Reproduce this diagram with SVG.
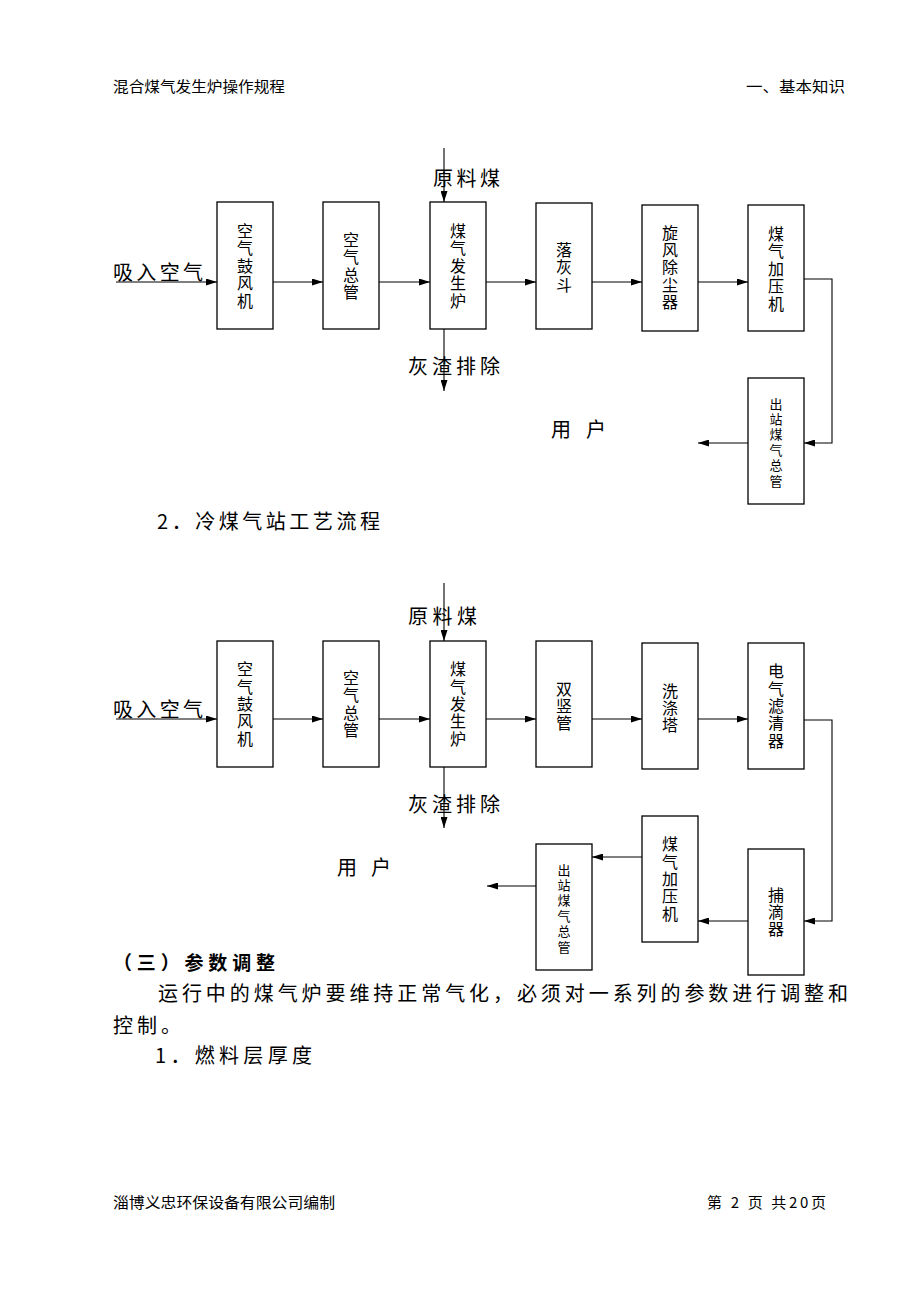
<svg xmlns="http://www.w3.org/2000/svg" width="920" height="1300" viewBox="0 0 920 1300">
<defs>
<style>
text{font-family:"Noto Sans CJK SC","Liberation Serif",serif;fill:#000}
.box{fill:#fff;stroke:#000;stroke-width:1.3}
.ln{fill:none;stroke:#000;stroke-width:1.1}
.bt{font-size:16px;text-anchor:middle}
.bs{font-size:13px;text-anchor:middle}
.lb{font-size:20px}
.hd{font-size:15px}
.body{font-size:20px}
.ttl{font-size:19px;font-weight:bold}
</style>
<marker id="ah" markerUnits="userSpaceOnUse" markerWidth="11" markerHeight="7" refX="11" refY="3.5" orient="auto">
<path d="M0,0 L11,3.5 L0,7 Z" fill="#000"/>
</marker>
</defs>
<rect width="920" height="1300" fill="#fff"/>

<g id="header">
<text class="hd" x="113" y="92" textLength="172" lengthAdjust="spacingAndGlyphs">混合煤气发生炉操作规程</text>
<text class="hd" x="746" y="92" textLength="99" lengthAdjust="spacingAndGlyphs">一、基本知识</text>
</g>

<g id="connectors">
<line class="ln" x1="116" y1="282" x2="217" y2="282" marker-end="url(#ah)"/>
<line class="ln" x1="273" y1="282" x2="323" y2="282" marker-end="url(#ah)"/>
<line class="ln" x1="379" y1="282" x2="430" y2="282" marker-end="url(#ah)"/>
<line class="ln" x1="486" y1="282" x2="536" y2="282" marker-end="url(#ah)"/>
<line class="ln" x1="592" y1="282" x2="642" y2="282" marker-end="url(#ah)"/>
<line class="ln" x1="698" y1="282" x2="748" y2="282" marker-end="url(#ah)"/>
<line class="ln" x1="444" y1="148" x2="444" y2="202" marker-end="url(#ah)"/>
<line class="ln" x1="444" y1="329" x2="444" y2="391" marker-end="url(#ah)"/>
<polyline class="ln" points="804,279 832,279 832,443 804,443" marker-end="url(#ah)"/>
<line class="ln" x1="748" y1="443" x2="698" y2="443" marker-end="url(#ah)"/>
<line class="ln" x1="116" y1="719" x2="217" y2="719" marker-end="url(#ah)"/>
<line class="ln" x1="273" y1="719" x2="323" y2="719" marker-end="url(#ah)"/>
<line class="ln" x1="379" y1="719" x2="430" y2="719" marker-end="url(#ah)"/>
<line class="ln" x1="486" y1="719" x2="536" y2="719" marker-end="url(#ah)"/>
<line class="ln" x1="592" y1="719" x2="642" y2="719" marker-end="url(#ah)"/>
<line class="ln" x1="698" y1="719" x2="748" y2="719" marker-end="url(#ah)"/>
<line class="ln" x1="444" y1="583" x2="444" y2="641" marker-end="url(#ah)"/>
<line class="ln" x1="444" y1="767" x2="444" y2="828" marker-end="url(#ah)"/>
<polyline class="ln" points="804,720 832,720 832,921 804,921" marker-end="url(#ah)"/>
<line class="ln" x1="748" y1="921" x2="698" y2="921" marker-end="url(#ah)"/>
<line class="ln" x1="642" y1="857" x2="592" y2="857" marker-end="url(#ah)"/>
<line class="ln" x1="536" y1="886" x2="487" y2="886" marker-end="url(#ah)"/>
</g>

<g id="labels-top">
<text class="lb" x="113" y="280" textLength="90" lengthAdjust="spacing">吸入空气</text>
<text class="lb" x="433" y="186" textLength="67" lengthAdjust="spacing">原料煤</text>
<text class="lb" x="408" y="374" textLength="92" lengthAdjust="spacing">灰渣排除</text>
<text class="lb" x="551" y="437" textLength="55" lengthAdjust="spacing">用 户</text>
</g>

<g id="t1">
<rect class="box" x="217" y="202" width="56" height="127"/>
<text class="bt"><tspan x="245" y="237">空</tspan><tspan x="245" y="254.4">气</tspan><tspan x="245" y="271.8">鼓</tspan><tspan x="245" y="289.2">风</tspan><tspan x="245" y="306.6">机</tspan></text>
</g>
<g id="t2">
<rect class="box" x="323" y="202" width="56" height="127"/>
<text class="bt"><tspan x="351" y="245.7">空</tspan><tspan x="351" y="263.1">气</tspan><tspan x="351" y="280.5">总</tspan><tspan x="351" y="297.9">管</tspan></text>
</g>
<g id="t3">
<rect class="box" x="430" y="202" width="56" height="127"/>
<text class="bt"><tspan x="458" y="237">煤</tspan><tspan x="458" y="254.4">气</tspan><tspan x="458" y="271.8">发</tspan><tspan x="458" y="289.2">生</tspan><tspan x="458" y="306.6">炉</tspan></text>
</g>
<g id="t4">
<rect class="box" x="536" y="203" width="56" height="126"/>
<text class="bt"><tspan x="564" y="256">落</tspan><tspan x="564" y="273.4">灰</tspan><tspan x="564" y="290.8">斗</tspan></text>
</g>
<g id="t5">
<rect class="box" x="642" y="205" width="56" height="126"/>
<text class="bt"><tspan x="670" y="238.5">旋</tspan><tspan x="670" y="255.9">风</tspan><tspan x="670" y="273.3">除</tspan><tspan x="670" y="290.7">尘</tspan><tspan x="670" y="308.1">器</tspan></text>
</g>
<g id="t6">
<rect class="box" x="748" y="205" width="56" height="126"/>
<text class="bt"><tspan x="776" y="240">煤</tspan><tspan x="776" y="257.4">气</tspan><tspan x="776" y="274.8">加</tspan><tspan x="776" y="292.2">压</tspan><tspan x="776" y="309.6">机</tspan></text>
</g>
<g id="t7">
<rect class="box" x="748" y="378" width="56" height="126"/>
<text class="bs"><tspan x="776" y="408.5">出</tspan><tspan x="776" y="423.9">站</tspan><tspan x="776" y="439.3">煤</tspan><tspan x="776" y="454.7">气</tspan><tspan x="776" y="470.1">总</tspan><tspan x="776" y="485.5">管</tspan></text>
</g>

<g id="section2">
<text class="body" x="157" y="529" textLength="223" lengthAdjust="spacing">2．冷煤气站工艺流程</text>
</g>

<g id="labels-bottom">
<text class="lb" x="113" y="717" textLength="90" lengthAdjust="spacing">吸入空气</text>
<text class="lb" x="408" y="624" textLength="69" lengthAdjust="spacing">原料煤</text>
<text class="lb" x="408" y="812" textLength="92" lengthAdjust="spacing">灰渣排除</text>
<text class="lb" x="337" y="875" textLength="54" lengthAdjust="spacing">用 户</text>
</g>

<g id="b1">
<rect class="box" x="217" y="641" width="56" height="126"/>
<text class="bt"><tspan x="245" y="675.2">空</tspan><tspan x="245" y="692.6">气</tspan><tspan x="245" y="710">鼓</tspan><tspan x="245" y="727.4">风</tspan><tspan x="245" y="744.8">机</tspan></text>
</g>
<g id="b2">
<rect class="box" x="323" y="641" width="56" height="126"/>
<text class="bt"><tspan x="351" y="683.9">空</tspan><tspan x="351" y="701.3">气</tspan><tspan x="351" y="718.7">总</tspan><tspan x="351" y="736.1">管</tspan></text>
</g>
<g id="b3">
<rect class="box" x="430" y="641" width="56" height="126"/>
<text class="bt"><tspan x="458" y="675.2">煤</tspan><tspan x="458" y="692.6">气</tspan><tspan x="458" y="710">发</tspan><tspan x="458" y="727.4">生</tspan><tspan x="458" y="744.8">炉</tspan></text>
</g>
<g id="b4">
<rect class="box" x="536" y="641" width="56" height="126"/>
<text class="bt"><tspan x="564" y="694.6">双</tspan><tspan x="564" y="712">竖</tspan><tspan x="564" y="729.4">管</tspan></text>
</g>
<g id="b5">
<rect class="box" x="642" y="643" width="56" height="126"/>
<text class="bt"><tspan x="670" y="696.6">洗</tspan><tspan x="670" y="714">涤</tspan><tspan x="670" y="731.4">塔</tspan></text>
</g>
<g id="b6">
<rect class="box" x="748" y="643" width="56" height="126"/>
<text class="bt"><tspan x="776" y="677.2">电</tspan><tspan x="776" y="694.6">气</tspan><tspan x="776" y="712">滤</tspan><tspan x="776" y="729.4">清</tspan><tspan x="776" y="746.8">器</tspan></text>
</g>
<g id="b7">
<rect class="box" x="748" y="849" width="56" height="126"/>
<text class="bt"><tspan x="776" y="900.6">捕</tspan><tspan x="776" y="918">滴</tspan><tspan x="776" y="935.4">器</tspan></text>
</g>
<g id="b8">
<rect class="box" x="642" y="816" width="56" height="126"/>
<text class="bt"><tspan x="670" y="850.2">煤</tspan><tspan x="670" y="867.6">气</tspan><tspan x="670" y="885">加</tspan><tspan x="670" y="902.4">压</tspan><tspan x="670" y="919.8">机</tspan></text>
</g>
<g id="b9">
<rect class="box" x="536" y="844" width="56" height="126"/>
<text class="bs"><tspan x="564" y="874.5">出</tspan><tspan x="564" y="889.9">站</tspan><tspan x="564" y="905.3">煤</tspan><tspan x="564" y="920.7">气</tspan><tspan x="564" y="936.1">总</tspan><tspan x="564" y="951.5">管</tspan></text>
</g>

<g id="body-text">
<text class="ttl" x="113" y="970" textLength="162" lengthAdjust="spacing">（三）参数调整</text>
<text class="body" x="158" y="1001" textLength="690" lengthAdjust="spacing">运行中的煤气炉要维持正常气化，必须对一系列的参数进行调整和</text>
<text class="body" x="113" y="1033" textLength="68" lengthAdjust="spacing">控制。</text>
<text class="body" x="155" y="1063" textLength="157" lengthAdjust="spacing">1．燃料层厚度</text>
</g>

<g id="footer">
<text class="hd" x="113" y="1208" textLength="222" lengthAdjust="spacingAndGlyphs">淄博义忠环保设备有限公司编制</text>
<text class="hd" x="707" y="1208" textLength="119" lengthAdjust="spacing">第 2 页 共20页</text>
</g>
</svg>
